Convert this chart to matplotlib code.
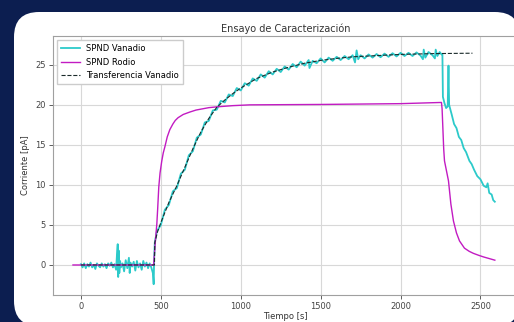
import matplotlib.pyplot as plt
from matplotlib.patches import FancyBboxPatch
from matplotlib.transforms import IdentityTransform

# SPND Vanadio (medido, con ruido)
t_van = [0, 10, 20, 30, 40, 50, 60, 70, 80, 90, 100, 110, 120, 130, 140, 150, 160, 170,
         180, 190, 200, 210, 220, 225, 230, 233, 236, 240, 245, 250, 260, 270, 280, 290,
         300, 305, 310, 320, 330, 340, 350, 360, 370, 380, 390, 400, 410, 420, 430, 440,
         450, 455, 458, 462,
         475, 500, 525, 550, 575, 600, 625, 650, 675, 700, 725, 750, 775, 800, 825, 850,
         875, 900, 925, 950, 975, 1000, 1025, 1050, 1075, 1100, 1125, 1150, 1175, 1200,
         1225, 1250, 1275, 1300, 1325, 1350, 1375, 1400, 1425, 1430, 1450, 1475, 1500,
         1525, 1550, 1575, 1600, 1625, 1650, 1675, 1700, 1715, 1725, 1735, 1750, 1775,
         1800, 1825, 1850, 1875, 1900, 1925, 1950, 1975, 2000, 2025, 2050, 2075, 2100,
         2125, 2140, 2145, 2155, 2175, 2200, 2215, 2220, 2230, 2245, 2256,
         2262, 2265, 2275, 2285, 2295, 2300, 2304, 2320, 2335, 2350, 2365, 2380, 2395,
         2410, 2431, 2445, 2460, 2480, 2500, 2520, 2537, 2545, 2555, 2570, 2580, 2590]
i_van = [0.1, -0.3, 0.2, -0.4, 0.1, -0.2, 0.3, -0.3, 0.0, -0.5, 0.2, -0.1, -0.3, 0.2,
         -0.2, 0.1, -0.4, 0.2, -0.1, 0.3, -0.3, 0.1, -0.6, 1.2, 2.6, -1.5, 1.8, -1.0, 0.5,
         -0.3, 0.2, -0.8, 0.6, -0.4, 0.9, -1.0, 0.3, -0.2, 0.4, -0.7, 0.5, -0.3, 0.2, -0.6,
         0.5, -0.2, 0.3, -0.4, 0.2, -0.3, -1.0, -2.4, 0.8, 2.8,
         4.2, 5.0, 6.9, 7.5, 9.2, 9.6, 11.4, 11.9, 13.7, 14.2, 15.9, 16.3, 17.8, 18.0,
         19.3, 19.4, 20.5, 20.3, 21.3, 21.1, 22.1, 21.8, 22.7, 22.4, 23.3, 23.0, 23.8,
         23.4, 24.2, 23.8, 24.5, 24.1, 24.8, 24.4, 25.1, 24.7, 25.4, 24.9, 25.6, 24.6,
         25.5, 25.2, 25.8, 25.3, 25.9, 25.5, 26.0, 25.6, 26.1, 25.7, 26.2, 25.3, 26.8,
         25.7, 26.2, 25.8, 26.3, 25.9, 26.35, 25.95, 26.4, 26.0, 26.45, 26.05, 26.5, 26.1,
         26.5, 26.1, 26.55, 26.15, 25.7, 26.9, 25.9, 26.6, 26.2, 25.8, 26.9, 26.1, 26.6,
         26.3,
         26.3, 21.0, 20.2, 19.6, 19.8, 24.9, 20.0, 18.8, 17.6, 17.1, 16.0, 15.6, 14.6,
         14.1, 13.0, 12.6, 11.9, 11.1, 10.7, 9.9, 9.7, 10.2, 9.0, 8.8, 8.1, 7.9]

# SPND Rodio
t_rod = [-50, 455, 460, 465, 470, 475, 480, 487, 495, 505, 515, 525, 540, 556, 575, 590,
         608, 640, 681, 720, 760, 800, 850, 950, 1056, 1500, 2000, 2256, 2260, 2265, 2270,
         2275, 2285, 2300, 2315, 2331, 2350, 2369, 2400, 2430, 2456, 2490, 2520, 2555, 2590]
i_rod = [0.0, 0.0, 1.5, 2.8, 4.0, 5.2, 7.0, 9.75, 11.5, 12.9, 14.0, 14.75, 16.0, 16.9,
         17.6, 18.05, 18.4, 18.8, 19.1, 19.35, 19.5, 19.65, 19.75, 19.9, 20.0, 20.05,
         20.15, 20.3, 19.5, 17.0, 14.5, 13.0, 12.0, 10.5, 7.6, 5.5, 4.0, 3.0, 2.1, 1.7,
         1.45, 1.2, 1.0, 0.8, 0.6]

# Transferencia Vanadio (ajuste)
t_tr = [0, 460, 462, 480, 500, 550, 600, 650, 700, 750, 800, 850, 900, 950, 1000, 1100,
        1200, 1300, 1400, 1500, 1600, 1700, 1800, 1900, 2000, 2200, 2450]
i_tr = [0.0, 0.0, 2.8, 4.2, 5.3, 7.8, 9.9, 12.2, 14.5, 16.6, 18.3, 19.7, 20.6, 21.4,
        22.1, 23.3, 24.1, 24.7, 25.2, 25.55, 25.8, 26.0, 26.1, 26.2, 26.3, 26.4, 26.45]

navy = '#0c1e50'
fig = plt.figure(figsize=(5.14, 3.22), dpi=100, facecolor=navy)

# white card behind the axes
card = FancyBboxPatch((14, -4), 506, 314, boxstyle="round,pad=0,rounding_size=25",
                      transform=IdentityTransform(), facecolor='white', edgecolor='none',
                      zorder=-10)
fig.add_artist(card)

ax = fig.add_axes([53 / 514, 27 / 322, 465 / 514, 259 / 322])
ax.plot(t_van, i_van, color='#2ccaca', lw=1.3, label='SPND Vanadio')
ax.plot(t_rod, i_rod, color='#c21bc2', lw=1.0, label='SPND Rodio')
ax.plot(t_tr, i_tr, color='#1a2a2a', lw=0.8, ls='--', label='Transferencia Vanadio')

ax.set_xlim(-175, 2735)
ax.set_ylim(-3.75, 28.6)
ax.set_xticks([0, 500, 1000, 1500, 2000, 2500])
ax.set_yticks([0, 5, 10, 15, 20, 25])
ax.grid(True, color='#d8d8d8', lw=0.8)
ax.tick_params(labelsize=6, colors='#444444', length=3, width=0.6, pad=2)
for s in ax.spines.values():
    s.set_color('#a0a0a0')
    s.set_linewidth(0.8)

ax.set_title('Ensayo de Caracterización', fontsize=7, color='#333333', pad=3)
ax.set_xlabel('Tiempo [s]', fontsize=6, color='#333333', labelpad=1)
ax.set_ylabel('Corriente [pA]', fontsize=6, color='#333333', labelpad=4)
ax.legend(loc='upper left', fontsize=6, framealpha=1, edgecolor='#cccccc',
          fancybox=False, borderpad=0.5, handlelength=2.2)

fig.savefig('out.png', dpi=100, facecolor=navy)
